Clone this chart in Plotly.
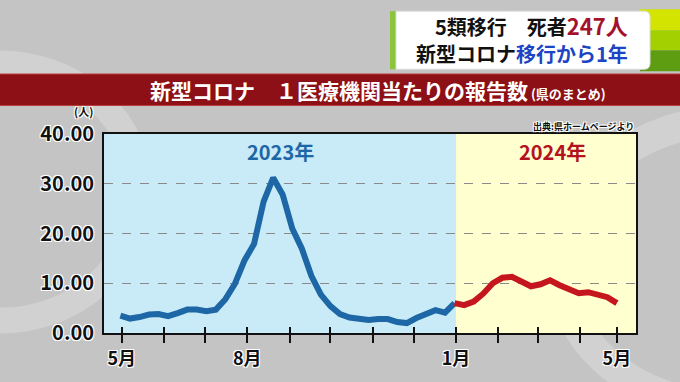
import pandas as pd
import plotly.graph_objects as go

# ---------------- data ----------------
dates_2023 = pd.date_range("2023-04-30", periods=36, freq="7D")
values_2023 = [3.5, 2.9, 3.2, 3.7, 3.8, 3.4, 4.0, 4.7, 4.7, 4.4,
               4.7, 6.8, 9.9, 14.6, 17.9, 26.4, 31.2, 27.8, 21.0, 17.0,
               11.5, 7.7, 5.4, 3.8, 3.1, 2.8, 2.6, 2.8, 2.8, 2.2,
               2.0, 3.0, 3.9, 4.6, 4.1, 6.0]
dates_2024 = pd.date_range("2023-12-31", periods=18, freq="7D")
values_2024 = [6.0, 5.6, 6.3, 7.9, 10.0, 11.1, 11.3, 10.5, 9.4, 9.8,
               10.6, 9.6, 8.8, 8.0, 8.2, 7.7, 7.2, 6.0]

tick_dates = ["2023-05-01", "2023-06-01", "2023-07-01", "2023-08-01",
              "2023-09-01", "2023-10-01", "2023-11-01", "2023-12-01",
              "2024-01-01", "2024-02-01", "2024-03-01", "2024-04-01",
              "2024-04-28"]
tick_text = ["5月", "", "", "8月", "", "", "", "", "1月", "", "", "", "5月"]
y_ticks = [0, 10, 20, 30, 40]
y_tick_text = ["0.00", "10.00", "20.00", "30.00", "40.00"]

x_start, x_split, x_end = "2023-04-18", "2024-01-01", "2024-05-12"

FONT = "Noto Sans CJK JP"
WHITE_OUTLINE = "1px 1px 0 #fff, -1px -1px 0 #fff, 1px -1px 0 #fff, -1px 1px 0 #fff"

# ---------------- layout helpers (pixel -> paper) ----------------
L, R, T, B = 104, 636, 134, 343
def px(x):
    return (x - L) / (R - L)
def py(y):
    return (B - y) / (B - T)

fig = go.Figure()

fig.add_trace(go.Scatter(x=dates_2023, y=values_2023, mode="lines",
                         line=dict(color="#1e67a6", width=6), hoverinfo="skip"))
fig.add_trace(go.Scatter(x=dates_2024, y=values_2024, mode="lines",
                         line=dict(color="#c5161d", width=6), hoverinfo="skip"))
# dummy trace for overlay axis (inside ticks)
fig.add_trace(go.Scatter(x=[x_start], y=[None], xaxis="x2", showlegend=False,
                         hoverinfo="skip"))

shapes = []
# background swirls
shapes.append(dict(type="circle", xref="paper", yref="paper",
                   x0=px(-140), x1=px(140), y0=py(330), y1=py(60),
                   line=dict(color="rgba(255,255,255,0.22)", width=26),
                   layer="below"))
shapes.append(dict(type="circle", xref="paper", yref="paper",
                   x0=px(560), x1=px(900), y0=py(420), y1=py(120),
                   line=dict(color="rgba(255,255,255,0.22)", width=30),
                   layer="below"))
# plot region backgrounds
shapes.append(dict(type="rect", xref="x", yref="paper", x0=x_start, x1=x_split,
                   y0=0, y1=1, fillcolor="#c9ebf7", line=dict(width=0), layer="below"))
shapes.append(dict(type="rect", xref="x", yref="paper", x0=x_split, x1=x_end,
                   y0=0, y1=1, fillcolor="#ffffd0", line=dict(width=0), layer="below"))
# title band
shapes.append(dict(type="rect", xref="paper", yref="paper",
                   x0=px(-5), x1=px(690), y0=py(104), y1=py(71),
                   fillcolor="#8c1015", line=dict(color="#b83a3a", width=1)))
# top-right box
shapes.append(dict(type="rect", xref="paper", yref="paper",
                   x0=px(640), x1=px(690), y0=py(25), y1=py(3),
                   fillcolor="#d2e400", line=dict(width=0)))
shapes.append(dict(type="rect", xref="paper", yref="paper",
                   x0=px(640), x1=px(690), y0=py(46), y1=py(25),
                   fillcolor="#a3d000", line=dict(width=0)))
shapes.append(dict(type="rect", xref="paper", yref="paper",
                   x0=px(640), x1=px(690), y0=py(68), y1=py(46),
                   fillcolor="#5e9c12", line=dict(width=0)))
shapes.append(dict(type="rect", xref="paper", yref="paper",
                   x0=px(390), x1=px(398), y0=py(66), y1=py(5),
                   fillcolor="#8cc43c", line=dict(width=0)))
shapes.append(dict(type="path", xref="paper", yref="paper",
                   path=(f"M {px(396)},{py(5)} L {px(644)},{py(5)} "
                         f"Q {px(650)},{py(5)} {px(650)},{py(11)} "
                         f"L {px(650)},{py(60)} Q {px(650)},{py(66)} {px(644)},{py(66)} "
                         f"L {px(396)},{py(66)} Z"),
                   fillcolor="#ffffff", line=dict(color="#dddddd", width=1)))

annotations = [
    dict(text="<b>新型コロナ　１医療機関当たりの報告数</b>"
              "<span style='font-size:13px'><b> (県のまとめ)</b></span>",
         x=px(378), y=py(88), xref="paper", yref="paper", showarrow=False,
         font=dict(family=FONT, size=21, color="white"), xanchor="center", yanchor="middle"),
    dict(text="<b>5類移行　死者<span style='color:#a5102c;font-size:22px'>247人</span></b>",
         x=px(630), y=py(19), xref="paper", yref="paper", showarrow=False,
         font=dict(family=FONT, size=20, color="#111111"), xanchor="right", yanchor="middle"),
    dict(text="<b>新型コロナ<span style='color:#1c44c4'>移行から1年</span></b>",
         x=px(630), y=py(49), xref="paper", yref="paper", showarrow=False,
         font=dict(family=FONT, size=20, color="#111111"), xanchor="right", yanchor="middle"),
    dict(text="<b>2023年</b>", x=px(280), y=py(152), xref="paper", yref="paper",
         showarrow=False, font=dict(family=FONT, size=20, color="#1e67a6"),
         xanchor="center", yanchor="middle"),
    dict(text="<b>2024年</b>", x=px(552), y=py(152), xref="paper", yref="paper",
         showarrow=False, font=dict(family=FONT, size=20, color="#b3121e"),
         xanchor="center", yanchor="middle"),
    dict(text="<b>出典:県ホームページより</b>", x=px(636), y=py(126), xref="paper",
         yref="paper", showarrow=False,
         font=dict(family=FONT, size=9, color="#111111", shadow=WHITE_OUTLINE),
         xanchor="right", yanchor="middle"),
    dict(text="<b>(人)</b>", x=px(83), y=py(110), xref="paper", yref="paper",
         showarrow=False, font=dict(family=FONT, size=11, color="#111111", shadow=WHITE_OUTLINE),
         xanchor="center", yanchor="middle"),
]

fig.update_layout(
    width=680, height=382,
    margin=dict(l=L, r=680 - R, t=T, b=382 - B, pad=0),
    paper_bgcolor="#c4c4c4",
    plot_bgcolor="#c9ebf7",
    showlegend=False,
    shapes=shapes,
    annotations=annotations,
    xaxis=dict(type="date", range=[x_start, x_end], tickvals=tick_dates,
               ticktext=tick_text, ticks="outside", ticklen=8, tickwidth=2,
               tickcolor="#111111", showgrid=False, zeroline=False,
               showline=True, linecolor="#111111", linewidth=2, mirror=True,
               tickfont=dict(family=FONT, size=18, color="#111111", weight="bold",
                             shadow=WHITE_OUTLINE),
               fixedrange=True),
    xaxis2=dict(type="date", overlaying="x", matches="x", anchor="y",
                side="bottom", tickvals=tick_dates, ticks="inside", ticklen=6,
                tickwidth=2, tickcolor="#111111", showticklabels=False,
                showgrid=False, zeroline=False, showline=False),
    yaxis=dict(range=[0, 40], tickvals=y_ticks, ticktext=y_tick_text,
               showgrid=True, gridcolor="#8a8a8a", griddash="dash", gridwidth=1,
               zeroline=False, showline=True, linecolor="#111111", linewidth=2,
               mirror=True, ticks="", ticklabelstandoff=4,
               tickfont=dict(family=FONT, size=20, color="#111111", weight="bold",
                             shadow=WHITE_OUTLINE),
               fixedrange=True),
)

fig.write_html("out.html")
